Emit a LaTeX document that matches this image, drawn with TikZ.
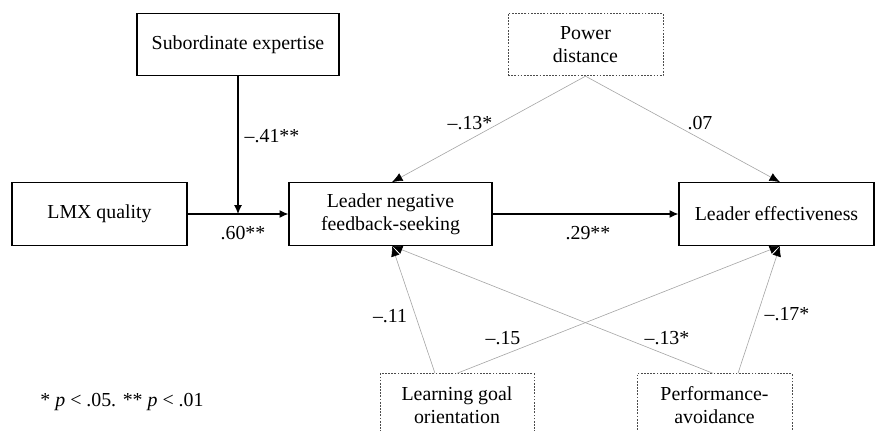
\documentclass[tikz,border=0pt]{standalone}
\usepackage{fontspec}
\setmainfont{Liberation Serif}
\usetikzlibrary{arrows.meta}

\tikzset{
    var/.style={draw, line width=0.7pt, minimum height=1.25cm, align=center, inner sep=2pt},
    mod/.style={draw=black!70, dash pattern=on 1pt off 0.8pt, line width=0.5pt, minimum height=1.25cm, align=center, inner sep=2pt},
    main/.style={->, line width=0.7pt},
    thin/.style={-{Latex[length=6pt, width=5pt, black]}, draw=black!35, line width=0.35pt},
    coef/.style={inner sep=1pt}
}

\begin{document}
\begin{tikzpicture}[x=0.02cm, y=-0.02cm, font=\fontsize{11.3}{13.3}\selectfont,
                    >={Latex[length=5pt, width=4.5pt, color=black]}]
                        \useasboundingbox (0,0) rectangle (875,431);
                        \clip (0,0) rectangle (875,431);

                        \node (sub) at (238, 44.5) [var, minimum width=4.04cm] {Subordinate expertise};
                        \node (lmx) at (99.5, 214) [var, minimum width=3.5cm] {LMX quality};
                        \node (lnfs) at (390.5, 214) [var, minimum width=4.06cm] {Leader negative\\feedback-seeking};
                        \node (le) at (776.5, 214) [var, minimum width=3.9cm] {Leader effectiveness};
                        \node (pd) at (585.5, 44.5) [mod, minimum width=3.1cm] {Power\\distance};
                        \node (lgo) at (457, 405) [mod, minimum width=3.08cm] {Learning goal\\orientation};
                        \node (pa) at (714.5, 405) [mod, minimum width=3.1cm] {Performance-\\avoidance};

                        \coordinate (m) at (sub.south |- lmx.east);

                        \draw[main] (lmx.east) -- (lnfs.west);
                        \draw[main] (sub.south) -- (m);
                        \draw[main] (lnfs.east) -- (le.west);
                        \draw[thin] (pd.south) -- ([xshift=0.03cm]lnfs.north);
                        \draw[thin] (pd.south) -- ([xshift=0.07cm]le.north);
                        \draw[thin] ([xshift=-0.44cm]lgo.north) -- ([xshift=0.03cm]lnfs.south);
                        \draw[thin] (lgo.north) -- ([xshift=0.07cm]le.south);
                        \draw[thin] ([xshift=-0.03cm]pa.north) -- ([xshift=0.03cm]lnfs.south);
                        \draw[thin] ([xshift=0.47cm]pa.north) -- ([xshift=0.07cm]le.south);

                        \node (c1) at (272, 136) [coef] {--.41**};
                        \node (c2) at (243, 233) [coef] {.60**};
                        \node (c3) at (470, 123) [coef] {--.13*};
                        \node (c4) at (700, 123) [coef] {.07};
                        \node (c5) at (588, 233) [coef] {.29**};
                        \node (c6) at (390, 316) [coef] {--.11};
                        \node (c7) at (503, 338) [coef] {--.15};
                        \node (c8) at (667, 338) [coef] {--.13*};
                        \node (c9) at (787, 314) [coef] {--.17*};

                        \node (note) at (122, 402) [coef] {* \textit{p} < .05. ** \textit{p} < .01};
                    \end{tikzpicture}
\end{document}
